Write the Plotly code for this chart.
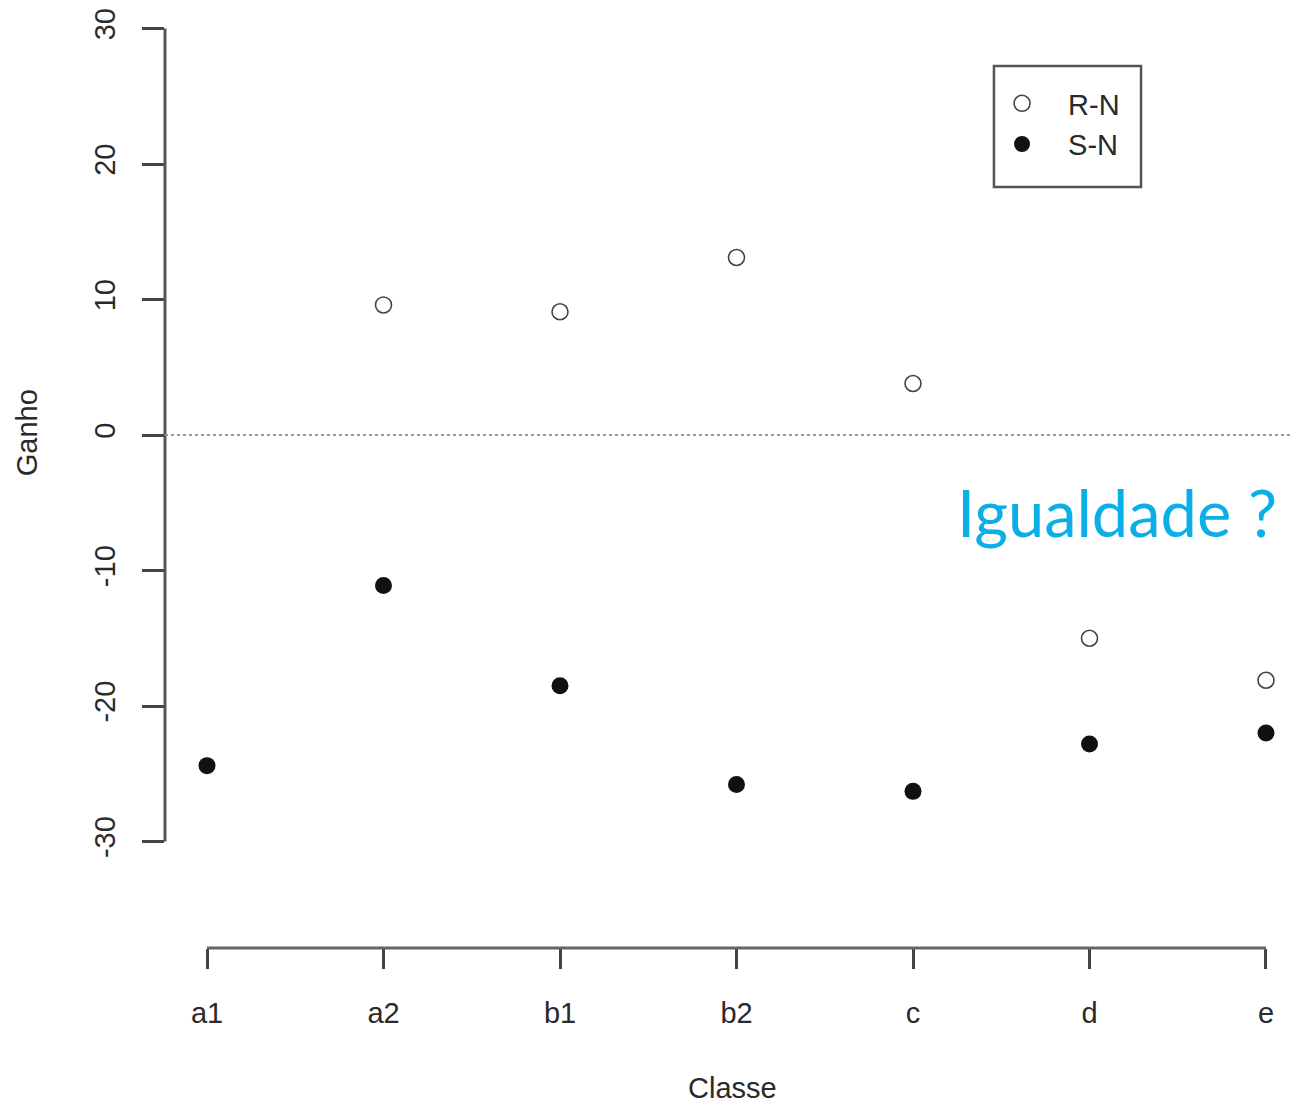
import plotly.graph_objects as go

categories = ["a1", "a2", "b1", "b2", "c", "d", "e"]
rn_values = [None, 9.6, 9.1, 13.1, 3.8, -15.0, -18.1]
sn_values = [-24.4, -11.1, -18.5, -25.8, -26.3, -22.8, -22.0]
y_ticks = [-30, -20, -10, 0, 10, 20, 30]

font_axis = "Liberation Sans, Arial, sans-serif"
txt_col = "#2a2a2a"

fig = go.Figure()
fig.add_trace(go.Scatter(
    x=categories, y=rn_values, mode="markers", name="R-N",
    marker=dict(symbol="circle-open", size=16, color="#444444", line=dict(width=1.6, color="#444444")),
))
fig.add_trace(go.Scatter(
    x=categories, y=sn_values, mode="markers", name="S-N",
    marker=dict(symbol="circle", size=17, color="#111111"),
))

fig.update_layout(
    width=1291, height=1097,
    margin=dict(l=157, r=0, t=20, b=157),
    paper_bgcolor="white", plot_bgcolor="white",
    showlegend=True,
    legend=dict(
        x=0.7152, y=0.9457, xanchor="left", yanchor="top",
        borderwidth=0,
        font=dict(family=font_axis, size=29, color=txt_col),
        bgcolor="rgba(0,0,0,0)", itemwidth=82,
    ),
    xaxis=dict(
        type="category", categoryorder="array", categoryarray=categories,
        range=[-0.238, 6.187], showgrid=False, zeroline=False, showline=False,
        ticks="outside", ticklen=20, tickwidth=2.5, tickcolor="#444444",
        ticklabelstandoff=19,
        tickfont=dict(family=font_axis, size=29, color=txt_col),
    ),
    yaxis=dict(
        range=[-37.86, 30.04], showgrid=False, zeroline=False, showline=False,
        tickvals=y_ticks, ticktext=[str(v) for v in y_ticks],
        ticks="outside", ticklen=22, tickwidth=2.5, tickcolor="#444444",
        tickangle=-90, ticklabelstandoff=15,
        tickfont=dict(family=font_axis, size=29, color=txt_col),
    ),
)

# legend box
fig.add_shape(type="rect", xref="paper", yref="paper", x0=0.7310, x1=0.8607, y0=0.8272, y1=0.9587,
              line=dict(color="#555555", width=2.5), fillcolor="rgba(0,0,0,0)", layer="below")
# y axis line (only from -30 to 30)
fig.add_shape(type="line", xref="paper", yref="y", x0=0, x1=0, y0=-30, y1=30,
              line=dict(color="#555555", width=3))
# x axis line (from first to last category)
fig.add_shape(type="line", xref="x", yref="paper", x0=0, x1=6, y0=0, y1=0,
              line=dict(color="#666666", width=3))
# dotted zero line
fig.add_shape(type="line", xref="paper", yref="y", x0=0, x1=1, y0=0, y1=0,
              line=dict(color="#999999", width=2, dash="dot"))

fig.add_annotation(text="Ganho", xref="paper", yref="y", x=-0.1217, y=0.2,
                   textangle=-90, showarrow=False, xanchor="center", yanchor="middle",
                   font=dict(family=font_axis, size=29, color=txt_col))
fig.add_annotation(text="Classe", xref="x", yref="paper", x=2.98, y=-0.152,
                   showarrow=False, xanchor="center", yanchor="middle",
                   font=dict(family=font_axis, size=29, color=txt_col))
fig.add_annotation(text="Igualdade ?", xref="paper", yref="y", x=0.8395, y=-5.68,
                   showarrow=False, xanchor="center", yanchor="middle",
                   font=dict(family="Lato, Open Sans, sans-serif", size=65, color="#0AAFE8"))

fig.write_html("out.html")
